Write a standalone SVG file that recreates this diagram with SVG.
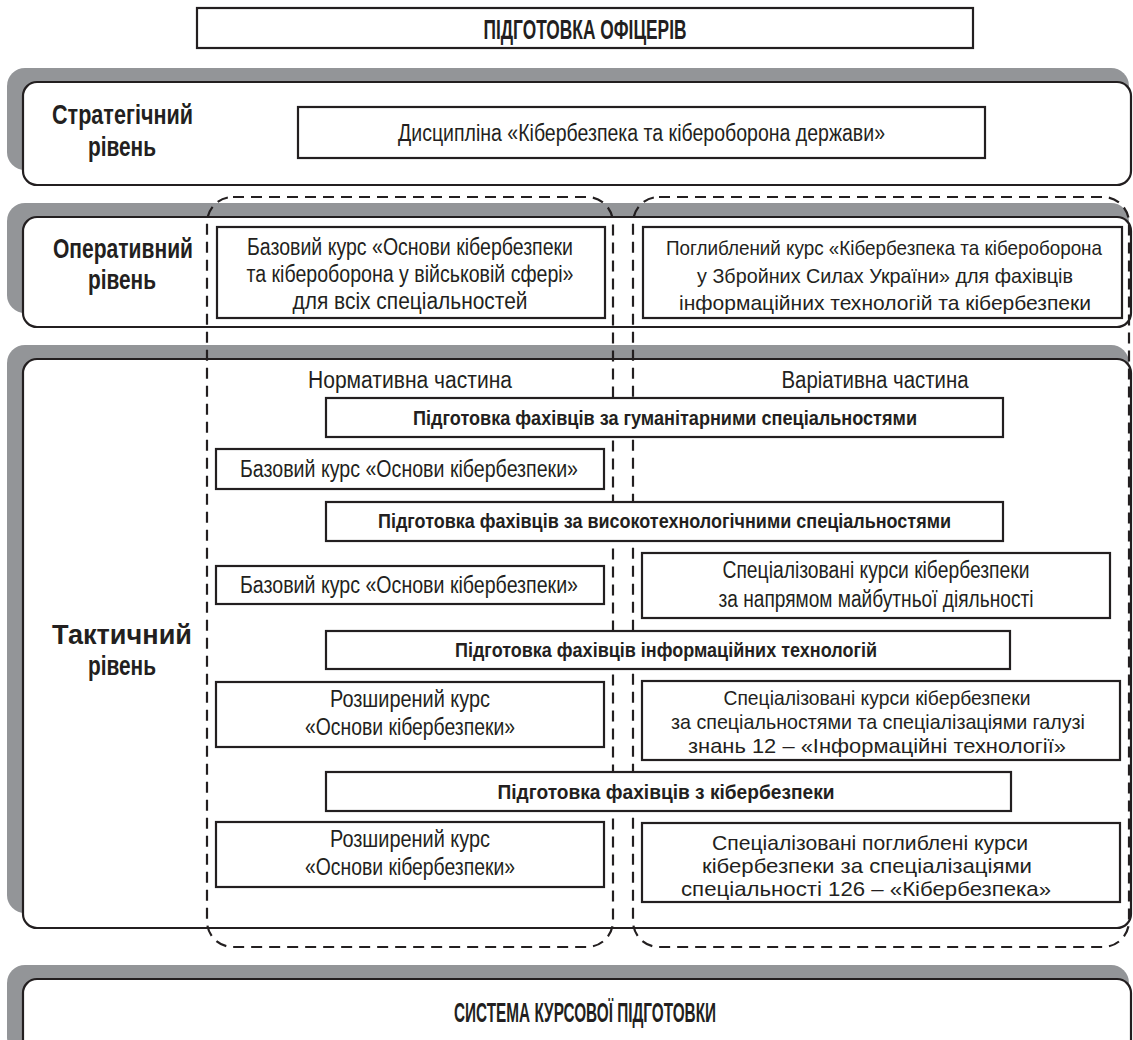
<svg xmlns="http://www.w3.org/2000/svg" width="1133" height="1040" viewBox="0 0 1133 1040">
<style>
.shadow{fill:#939598;}
.panel{fill:#fff;stroke:#231f20;stroke-width:2.2;}
.box{fill:#fff;stroke:#231f20;stroke-width:2.2;}
.dash{fill:none;stroke:#231f20;stroke-width:2.2;stroke-dasharray:11 7;}
text{font-family:"Liberation Sans",Arial,sans-serif;fill:#231f20;text-anchor:middle;}
.t{font-size:23px;}
.s{font-size:21px;}
.b{font-size:21px;font-weight:bold;}
.lv{font-size:28px;font-weight:bold;}
.h{font-size:27px;font-weight:bold;}
</style>
<rect width="1133" height="1040" fill="#fff"/>
<g id="title">
<rect class="box" x="197" y="8" width="776" height="40"/>
<text class="h" x="585" y="39" textLength="203" lengthAdjust="spacingAndGlyphs">ПІДГОТОВКА ОФІЦЕРІВ</text>
</g>
<g id="panel-strategic">
<rect class="shadow" x="7" y="68" width="1122" height="102" rx="18"/>
<rect class="panel" x="23" y="82" width="1108" height="103" rx="14"/>
<text class="lv" x="122.5" y="124" textLength="141" lengthAdjust="spacingAndGlyphs">Стратегічний</text>
<text class="lv" x="122" y="156" textLength="68" lengthAdjust="spacingAndGlyphs">рівень</text>
</g>
<g id="panel-operational">
<rect class="shadow" x="7" y="203" width="1122" height="110" rx="18"/>
<rect class="panel" x="23" y="217" width="1108" height="110" rx="14"/>
<text class="lv" x="123" y="258" textLength="140" lengthAdjust="spacingAndGlyphs">Оперативний</text>
<text class="lv" x="122" y="289" textLength="68" lengthAdjust="spacingAndGlyphs">рівень</text>
</g>
<g id="panel-tactical">
<rect class="shadow" x="7" y="345" width="1122" height="568" rx="18"/>
<rect class="panel" x="23" y="359" width="1108" height="569" rx="14"/>
<text class="lv" x="122" y="644" textLength="140" lengthAdjust="spacingAndGlyphs">Тактичний</text>
<text class="lv" x="122" y="675" textLength="68" lengthAdjust="spacingAndGlyphs">рівень</text>
<text class="t" x="410" y="388" textLength="204" lengthAdjust="spacingAndGlyphs">Нормативна частина</text>
<text class="t" x="875" y="388" textLength="187" lengthAdjust="spacingAndGlyphs">Варіативна частина</text>
</g>
<g id="panel-system">
<rect class="shadow" x="7" y="965" width="1122" height="90" rx="18"/>
<rect class="panel" x="23" y="979" width="1108" height="80" rx="14"/>
<text class="h" x="585" y="1022" textLength="262" lengthAdjust="spacingAndGlyphs">СИСТЕМА КУРСОВОЇ ПІДГОТОВКИ</text>
</g>
<g id="connectors">
<rect class="dash" x="207" y="197" width="406" height="750" rx="26"/>
<rect class="dash" x="633" y="197" width="496" height="750" rx="26"/>
</g>
<g id="strategic-discipline">
<rect class="box" x="298" y="107" width="687" height="51"/>
<text class="t" x="641.5" y="141" textLength="487" lengthAdjust="spacingAndGlyphs">Дисципліна «Кібербезпека та кібероборона держави»</text>
</g>
<g id="op-basic">
<rect class="box" x="217" y="227" width="388" height="91"/>
<text class="t" x="410" y="255" textLength="326" lengthAdjust="spacingAndGlyphs">Базовий курс «Основи кібербезпеки</text>
<text class="t" x="410" y="282" textLength="327" lengthAdjust="spacingAndGlyphs">та кібероборона у військовій сфері»</text>
<text class="t" x="410" y="309" textLength="235" lengthAdjust="spacingAndGlyphs">для всіх спеціальностей</text>
</g>
<g id="op-advanced">
<rect class="box" x="643" y="227" width="479" height="91"/>
<text class="s" x="884" y="255" textLength="436" lengthAdjust="spacingAndGlyphs">Поглиблений курс «Кібербезпека та кібероборона</text>
<text class="s" x="885" y="283" textLength="376" lengthAdjust="spacingAndGlyphs">у Збройних Силах України» для фахівців</text>
<text class="s" x="885" y="310" textLength="412" lengthAdjust="spacingAndGlyphs">інформаційних технологій та кібербезпеки</text>
</g>
<g id="h-humanitarian">
<rect class="box" x="326" y="398" width="677" height="39"/>
<text class="b" x="665" y="425" textLength="504" lengthAdjust="spacingAndGlyphs">Підготовка фахівців за гуманітарними спеціальностями</text>
</g>
<g id="basic-1">
<rect class="box" x="216" y="449" width="388" height="40"/>
<text class="t" x="409" y="477" textLength="338" lengthAdjust="spacingAndGlyphs">Базовий курс «Основи кібербезпеки»</text>
</g>
<g id="h-hightech">
<rect class="box" x="326" y="502" width="677" height="39"/>
<text class="b" x="664.5" y="528" textLength="573" lengthAdjust="spacingAndGlyphs">Підготовка фахівців за високотехнологічними спеціальностями</text>
</g>
<g id="spec-1">
<rect class="box" x="642" y="553" width="468" height="65"/>
<text class="t" x="876" y="578" textLength="307" lengthAdjust="spacingAndGlyphs">Спеціалізовані курси кібербезпеки</text>
<text class="t" x="876" y="607" textLength="315" lengthAdjust="spacingAndGlyphs">за напрямом майбутньої діяльності</text>
</g>
<g id="basic-2">
<rect class="box" x="216" y="566" width="388" height="38"/>
<text class="t" x="409" y="593" textLength="338" lengthAdjust="spacingAndGlyphs">Базовий курс «Основи кібербезпеки»</text>
</g>
<g id="h-it">
<rect class="box" x="326" y="631" width="684" height="38"/>
<text class="b" x="666" y="657" textLength="422" lengthAdjust="spacingAndGlyphs">Підготовка фахівців інформаційних технологій</text>
</g>
<g id="ext-1">
<rect class="box" x="216" y="682" width="388" height="65"/>
<text class="t" x="410" y="707" textLength="160" lengthAdjust="spacingAndGlyphs">Розширений курс</text>
<text class="t" x="410" y="735" textLength="210" lengthAdjust="spacingAndGlyphs">«Основи кібербезпеки»</text>
</g>
<g id="spec-2">
<rect class="box" x="642" y="681" width="478" height="79"/>
<text class="s" x="877" y="705" textLength="307" lengthAdjust="spacingAndGlyphs">Спеціалізовані курси кібербезпеки</text>
<text class="s" x="878" y="729" textLength="414" lengthAdjust="spacingAndGlyphs">за спеціальностями та спеціалізаціями галузі</text>
<text class="s" x="877" y="753" textLength="378" lengthAdjust="spacingAndGlyphs">знань 12 – «Інформаційні технології»</text>
</g>
<g id="h-cyber">
<rect class="box" x="326" y="772" width="685" height="39"/>
<text class="b" x="666" y="799" textLength="337" lengthAdjust="spacingAndGlyphs">Підготовка фахівців з кібербезпеки</text>
</g>
<g id="ext-2">
<rect class="box" x="216" y="822" width="388" height="65"/>
<text class="t" x="410" y="847" textLength="160" lengthAdjust="spacingAndGlyphs">Розширений курс</text>
<text class="t" x="410" y="875" textLength="210" lengthAdjust="spacingAndGlyphs">«Основи кібербезпеки»</text>
</g>
<g id="spec-3">
<rect class="box" x="642" y="823" width="478" height="79"/>
<text class="s" x="870" y="850" textLength="316" lengthAdjust="spacingAndGlyphs">Спеціалізовані поглиблені курси</text>
<text class="s" x="867" y="873" textLength="330" lengthAdjust="spacingAndGlyphs">кібербезпеки за спеціалізаціями</text>
<text class="s" x="866" y="896" textLength="370" lengthAdjust="spacingAndGlyphs">спеціальності 126 – «Кібербезпека»</text>
</g>
</svg>
